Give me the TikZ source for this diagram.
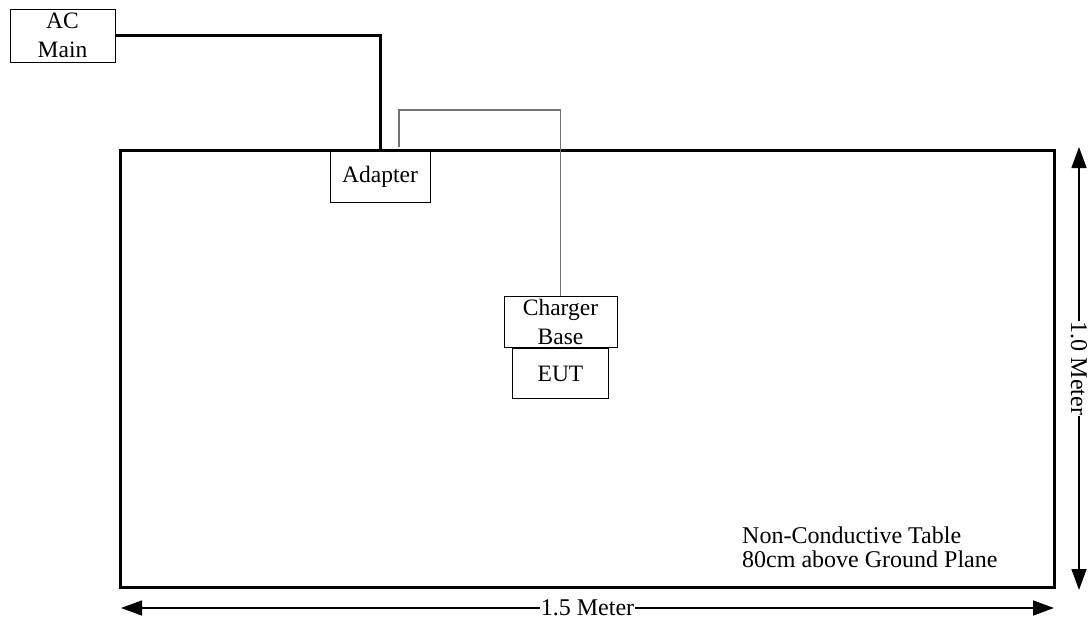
\documentclass[tikz,border=0pt]{standalone}
\usepackage{fontspec}
\setmainfont{Liberation Serif}
\usetikzlibrary{positioning, arrows.meta, calc}

\begin{document}
\begin{tikzpicture}[
    x=1pt, y=-1pt,
    unit/.style={rectangle, draw, line width=1pt, inner sep=0pt, align=center, font=\fontsize{23.5}{29}\selectfont, minimum width=#1},
    unit/.default=100pt,
    bench/.style={rectangle, draw, line width=3pt, minimum width=934pt, minimum height=437pt},
    mains/.style={line width=3pt},
    lead/.style={line width=1.2pt, draw=gray!90!black},
    dim/.style={{Triangle[length=21pt, width=15pt]}-{Triangle[length=21pt, width=15pt]}, line width=1.4pt},
    dimlabel/.style={fill=white, inner sep=0.5pt, font=\fontsize{24}{24}\selectfont},
]
\useasboundingbox (0,0) rectangle (1092,621);

\node[bench] (table) at (587, 368.5) {};
\node[unit=105pt, minimum height=53pt] (acmain) at (62.5, 35.5) {AC\\Main};
\node[unit=100pt, minimum height=51pt, fill=white] (adapter) at (380, 176.5) {Adapter};
\node[unit=113pt, minimum height=51pt] (charger) at (560.5, 322) {Charger\\Base};
\node[unit=96pt, minimum height=50pt, below=0pt of charger] (eut) {EUT};
\node[anchor=west, align=left, inner sep=0pt, font=\fontsize{24}{24}\selectfont] (tabletext) at (742, 547) {Non-Conductive Table\\80cm above Ground Plane};

% cables
\draw[mains] (acmain.east) -| (adapter.north);
\coordinate (plug) at (399, 147);
\coordinate (loop) at (0, 110);
\draw[lead] (plug) |- (loop -| charger.north) -- (charger.north);

% dimensions
\coordinate (vtop) at (1079, 147);
\coordinate (vbot) at (1079, 590);
\draw[dim] (vtop) -- node[dimlabel, rotate=-90] (vlabel) {1.0 Meter} (vbot);
\coordinate (hleft) at (121, 608);
\coordinate (hright) at (1054, 608);
\draw[dim] (hleft) -- node[dimlabel] (hlabel) {1.5 Meter} (hright);
\end{tikzpicture}
\end{document}
